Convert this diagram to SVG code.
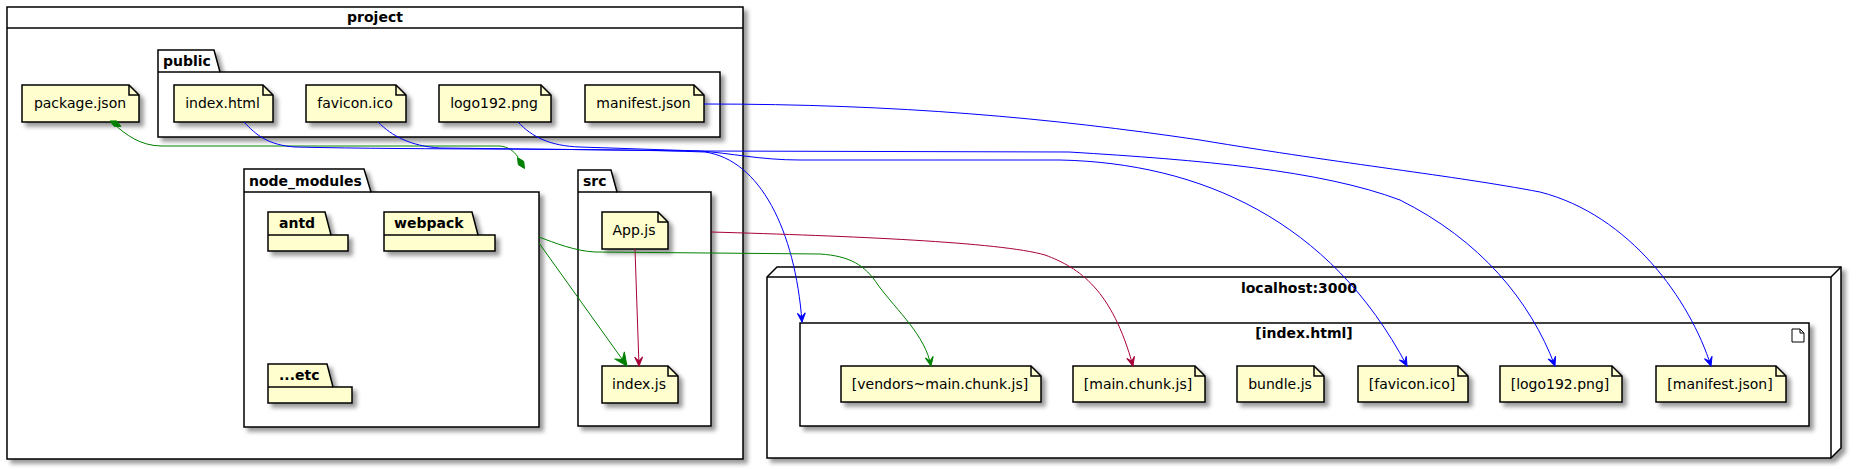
<svg xmlns="http://www.w3.org/2000/svg" width="1857" height="470" viewBox="0 0 1857 470">
<defs>
<filter id="sh" x="-0.2" y="-0.2" width="1.5" height="1.5">
<feGaussianBlur in="SourceAlpha" stdDeviation="2" result="b"/>
<feColorMatrix in="b" type="matrix" values="0 0 0 0 0 0 0 0 0 0 0 0 0 0 0 0 0 0 .4 0" result="b2"/>
<feOffset in="b2" dx="4" dy="4" result="b3"/>
<feBlend in="SourceGraphic" in2="b3" mode="normal"/>
</filter>
<marker id="aBlue" markerUnits="userSpaceOnUse" markerWidth="12" markerHeight="12" viewBox="0 0 12 12" refX="10" refY="6" orient="auto"><path d="M10,6 L1,2 L5,6 L1,10 Z" fill="#0000FF" stroke="#0000FF" stroke-width="1"/></marker>
<marker id="aRed" markerUnits="userSpaceOnUse" markerWidth="12" markerHeight="12" viewBox="0 0 12 12" refX="10" refY="6" orient="auto"><path d="M10,6 L1,2 L5,6 L1,10 Z" fill="#A80036" stroke="#A80036" stroke-width="1"/></marker>
<marker id="aGreen" markerUnits="userSpaceOnUse" markerWidth="12" markerHeight="12" viewBox="0 0 12 12" refX="10" refY="6" orient="auto"><path d="M10,6 L1,2 L5,6 L1,10 Z" fill="#008000" stroke="#008000" stroke-width="1"/></marker>
<marker id="aGreenB" markerUnits="userSpaceOnUse" markerWidth="16" markerHeight="16" viewBox="0 0 16 16" refX="14" refY="8" orient="auto"><path d="M14,8 L1,2 L6,8 L1,14 Z" fill="#008000" stroke="#008000" stroke-width="1"/></marker>
</defs>
<style>
.box{fill:#FFFFFF;stroke:#000;stroke-width:1.5}
.pk{fill:#FEFECE;stroke:#000;stroke-width:1.5}
.note{fill:#FEFECE;stroke:#000;stroke-width:1.5}
.ln{fill:none;stroke:#000;stroke-width:1.5}
.t{font-family:"DejaVu Sans",Verdana,sans-serif;font-size:14px;fill:#000}
.tb{font-family:"DejaVu Sans",Verdana,sans-serif;font-size:14px;font-weight:bold;fill:#000}
.e{fill:none;stroke-width:1}
</style>
<rect width="1857" height="470" fill="#FFFFFF"/>

<g id="project">
<rect class="box" x="7" y="7" width="736" height="452" filter="url(#sh)"/>
<line class="ln" x1="7" y1="28" x2="743" y2="28"/>
<text class="tb" x="375" y="22" text-anchor="middle">project</text>
</g>

<g id="public">
<path class="box" d="M158,50 L214,50 L220,72 L720,72 L720,137 L158,137 Z" filter="url(#sh)"/>
<line class="ln" x1="158" y1="72" x2="220" y2="72"/>
<text class="tb" x="163" y="66">public</text>
</g>

<g id="node_modules">
<path class="box" d="M244,169 L364,169 L371,192 L539,192 L539,427 L244,427 Z" filter="url(#sh)"/>
<line class="ln" x1="244" y1="192" x2="371" y2="192"/>
<text class="tb" x="249" y="186">node_modules</text>
</g>

<g id="src">
<path class="box" d="M578,170 L611,170 L617,192 L711,192 L711,426 L578,426 Z" filter="url(#sh)"/>
<line class="ln" x1="578" y1="192" x2="617" y2="192"/>
<text class="tb" x="583" y="186">src</text>
</g>

<g id="antd">
<path class="pk" d="M268,212 L325,212 L331,235 L348,235 L348,251 L268,251 Z" filter="url(#sh)"/>
<line class="ln" x1="268" y1="235" x2="331" y2="235"/>
<text class="tb" x="279" y="228">antd</text>
</g>

<g id="webpack">
<path class="pk" d="M384,212 L472,212 L478,235 L495,235 L495,251 L384,251 Z" filter="url(#sh)"/>
<line class="ln" x1="384" y1="235" x2="478" y2="235"/>
<text class="tb" x="394" y="228">webpack</text>
</g>

<g id="etc">
<path class="pk" d="M268,364 L327,364 L333,387 L352,387 L352,403 L268,403 Z" filter="url(#sh)"/>
<line class="ln" x1="268" y1="387" x2="333" y2="387"/>
<text class="tb" x="279" y="380">...etc</text>
</g>

<g id="package_json">
<path class="note" d="M22,85 L22,122 L139,122 L139,95 L129,85 Z" filter="url(#sh)"/>
<path class="ln" d="M129,85 L129,95 L139,95"/>
<text class="t" x="80" y="108" text-anchor="middle">package.json</text>
</g>

<g id="index_html">
<path class="note" d="M174,85 L174,122 L273,122 L273,95 L263,85 Z" filter="url(#sh)"/>
<path class="ln" d="M263,85 L263,95 L273,95"/>
<text class="t" x="222.5" y="108" text-anchor="middle">index.html</text>
</g>

<g id="favicon_ico">
<path class="note" d="M306,85 L306,122 L406,122 L406,95 L396,85 Z" filter="url(#sh)"/>
<path class="ln" d="M396,85 L396,95 L406,95"/>
<text class="t" x="355" y="108" text-anchor="middle">favicon.ico</text>
</g>

<g id="logo192_png">
<path class="note" d="M439,85 L439,122 L551,122 L551,95 L541,85 Z" filter="url(#sh)"/>
<path class="ln" d="M541,85 L541,95 L551,95"/>
<text class="t" x="494" y="108" text-anchor="middle">logo192.png</text>
</g>

<g id="manifest_json">
<path class="note" d="M585,85 L585,122 L704,122 L704,95 L694,85 Z" filter="url(#sh)"/>
<path class="ln" d="M694,85 L694,95 L704,95"/>
<text class="t" x="643.5" y="108" text-anchor="middle">manifest.json</text>
</g>

<g id="App_js">
<path class="note" d="M602,212 L602,249 L668,249 L668,222 L658,212 Z" filter="url(#sh)"/>
<path class="ln" d="M658,212 L658,222 L668,222"/>
<text class="t" x="634" y="235" text-anchor="middle">App.js</text>
</g>

<g id="index_js">
<path class="note" d="M602,366 L602,403 L678,403 L678,376 L668,366 Z" filter="url(#sh)"/>
<path class="ln" d="M668,366 L668,376 L678,376"/>
<text class="t" x="639" y="389" text-anchor="middle">index.js</text>
</g>

<g id="localhost">
<path class="box" d="M767,277 L777,267 L1841,267 L1841,448 L1831,458 L767,458 Z" filter="url(#sh)"/>
<path class="ln" d="M767,277 L1831,277 L1841,267 M1831,277 L1831,458"/>
<text class="tb" x="1299" y="293" text-anchor="middle">localhost:3000</text>
</g>

<g id="index_artifact">
<rect class="box" x="800" y="323" width="1009" height="103" filter="url(#sh)"/>
<path d="M1792,329 L1800,329 L1804,333 L1804,342 L1792,342 Z M1800,329 L1800,333 L1804,333" fill="none" stroke="#000" stroke-width="1"/>
<text class="tb" x="1304" y="338" text-anchor="middle">[index.html]</text>
</g>

<g id="vendors_chunk">
<path class="note" d="M841,366 L841,402 L1041,402 L1041,376 L1031,366 Z" filter="url(#sh)"/>
<path class="ln" d="M1031,366 L1031,376 L1041,376"/>
<text class="t" x="940" y="389" text-anchor="middle">[vendors~main.chunk.js]</text>
</g>

<g id="main_chunk">
<path class="note" d="M1073,366 L1073,402 L1205,402 L1205,376 L1195,366 Z" filter="url(#sh)"/>
<path class="ln" d="M1195,366 L1195,376 L1205,376"/>
<text class="t" x="1138" y="389" text-anchor="middle">[main.chunk.js]</text>
</g>

<g id="bundle_js">
<path class="note" d="M1237,366 L1237,402 L1324,402 L1324,376 L1314,366 Z" filter="url(#sh)"/>
<path class="ln" d="M1314,366 L1314,376 L1324,376"/>
<text class="t" x="1280" y="389" text-anchor="middle">bundle.js</text>
</g>

<g id="favicon_out">
<path class="note" d="M1358,366 L1358,402 L1468,402 L1468,376 L1458,366 Z" filter="url(#sh)"/>
<path class="ln" d="M1458,366 L1458,376 L1468,376"/>
<text class="t" x="1412" y="389" text-anchor="middle">[favicon.ico]</text>
</g>

<g id="logo_out">
<path class="note" d="M1500,366 L1500,402 L1622,402 L1622,376 L1612,366 Z" filter="url(#sh)"/>
<path class="ln" d="M1612,366 L1612,376 L1622,376"/>
<text class="t" x="1560" y="389" text-anchor="middle">[logo192.png]</text>
</g>

<g id="manifest_out">
<path class="note" d="M1656,366 L1656,402 L1786,402 L1786,376 L1776,366 Z" filter="url(#sh)"/>
<path class="ln" d="M1776,366 L1776,376 L1786,376"/>
<text class="t" x="1720" y="389" text-anchor="middle">[manifest.json]</text>
</g>

<g id="connectors">
<!-- package.json to node_modules (composition) -->
<path class="e" stroke="#008000" d="M114,124 C125,134 140,146 162,146 L500,146 C508,147 513,150 518,157"/>
<path d="M110,121 L116.7,120.9 L121,126.5 L114.1,126.3 Z" fill="#008000" stroke="#008000" stroke-width="1"/>
<path d="M517.5,157.5 L523.7,161.3 L524.5,168.5 L518.3,164.7 Z" fill="#008000" stroke="#008000" stroke-width="1"/>
<!-- index.html -> [index.html] -->
<path class="e" stroke="#0000FF" marker-end="url(#aBlue)" d="M244,122 C256,135 268,145 295,147 C420,150 600,148 705,152 C760,160 795,230 802,322"/>
<!-- favicon.ico -> [favicon.ico] -->
<path class="e" stroke="#0000FF" marker-end="url(#aBlue)" d="M378,122 C392,136 410,146 440,148 L700,151 C730,153 760,160 800,160 L1060,160 C1200,163 1330,220 1407,366"/>
<!-- logo192.png -> [logo192.png] -->
<path class="e" stroke="#0000FF" marker-end="url(#aBlue)" d="M518,122 C532,137 550,146 580,147 L700,151 L1069,152 C1200,160 1320,170 1400,200 C1480,240 1530,300 1555,366"/>
<!-- manifest.json -> [manifest.json] -->
<path class="e" stroke="#0000FF" marker-end="url(#aBlue)" d="M704,104 C900,104 1050,118 1200,140 C1350,165 1450,175 1540,192 C1630,215 1690,300 1711,366"/>
<!-- App.js -> [main.chunk.js] -->
<path class="e" stroke="#A80036" marker-end="url(#aRed)" d="M711,232 C850,236 1000,242 1045,255 C1080,268 1112,290 1133,366"/>
<!-- App.js -> index.js -->
<path class="e" stroke="#A80036" marker-end="url(#aRed)" d="M635,249 L639,366"/>
<!-- node_modules -> [vendors~main.chunk.js] -->
<path class="e" stroke="#008000" marker-end="url(#aGreen)" d="M539,237 C555,243 575,251 595,252 L820,254 C850,256 865,265 878,285 C898,312 925,335 931,366"/>
<!-- node_modules -> index.js (thick) -->
<path class="e" stroke="#008000" stroke-width="2.5" marker-end="url(#aGreenB)" d="M539,243 L627,366"/>
</g>
</svg>
